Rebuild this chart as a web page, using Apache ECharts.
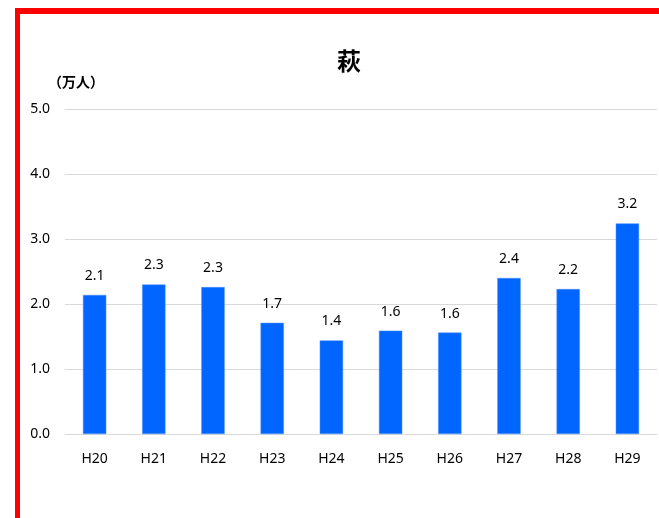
<!DOCTYPE html>
<html>
<head>
<meta charset="utf-8">
<script src="https://cdn.jsdelivr.net/npm/echarts@6/dist/echarts.min.js"></script>
<style>
html,body{margin:0;padding:0;background:#fff;}
#chart{width:659px;height:518px;}
</style>
</head>
<body>
<div id="chart"></div>
<script>
const categories = ['H20','H21','H22','H23','H24','H25','H26','H27','H28','H29'];
const visitors = [2.14, 2.30, 2.26, 1.71, 1.44, 1.59, 1.56, 2.40, 2.23, 3.24];
const yTicks = [0, 1, 2, 3, 4, 5];
const titleText = '萩';
const unitText = '（万人）';

const font = '"Noto Sans", "Noto Sans CJK JP", sans-serif';
const chart = echarts.init(document.getElementById('chart'), null, {renderer: 'canvas'});
chart.setOption({
  backgroundColor: '#ffffff',
  animation: false,
  title: {
    text: titleText,
    left: 344,
    top: 44,
    textAlign: 'center',
    textStyle: {fontFamily: '"Noto Sans CJK JP", sans-serif', fontSize: 24, fontWeight: 'bold', color: '#000'}
  },
  graphic: [
    {type: 'rect', shape: {x: 15, y: 8, width: 644, height: 6}, style: {fill: '#ff0000'}},
    {type: 'rect', shape: {x: 15, y: 8, width: 5, height: 510}, style: {fill: '#ff0000'}},
    {type: 'text', left: 48, top: 75, style: {text: unitText, font: 'bold 14px "Noto Sans CJK JP", sans-serif', fill: '#000'}}
  ],
  grid: {left: 65, right: 2, top: 109, bottom: 84, containLabel: false},
  xAxis: {
    type: 'category',
    data: categories,
    axisTick: {show: false},
    axisLine: {lineStyle: {color: '#d9d9d9', width: 1}},
    axisLabel: {color: '#000', fontFamily: font, fontSize: 14, margin: 18}
  },
  yAxis: {
    type: 'value',
    min: yTicks[0],
    max: yTicks[yTicks.length - 1],
    interval: 1,
    axisLine: {show: false},
    axisTick: {show: false},
    splitLine: {lineStyle: {color: '#d9d9d9', width: 1}},
    axisLabel: {color: '#000', fontFamily: font, fontSize: 14, margin: 15, formatter: v => v.toFixed(1)}
  },
  series: [{
    type: 'bar',
    data: visitors,
    barWidth: '39.4%',
    itemStyle: {color: '#0066ff', borderColor: '#4d8fff', borderWidth: 0.5},
    label: {
      show: true,
      position: 'top',
      distance: 12,
      color: '#000',
      fontFamily: font,
      fontSize: 14,
      formatter: p => p.value.toFixed(1)
    }
  }]
});
</script>
</body>
</html>
